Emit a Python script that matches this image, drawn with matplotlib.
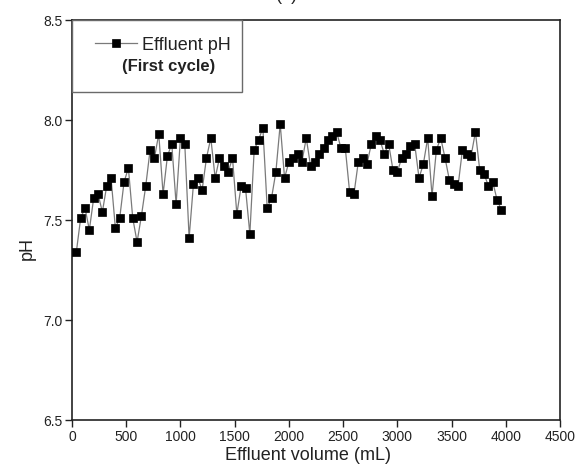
import matplotlib
matplotlib.use("Agg")
import matplotlib.pyplot as plt
from matplotlib.patches import Rectangle

plt.rcParams['font.family'] = ['Liberation Sans', 'DejaVu Sans']

volume_ml = [40, 80, 120, 160, 200, 240, 280, 320, 360, 400,
             440, 480, 520, 560, 600, 640, 680, 720, 760, 800,
             840, 880, 920, 960, 1000, 1040, 1080, 1120, 1160, 1200,
             1240, 1280, 1320, 1360, 1400, 1440, 1480, 1520, 1560, 1600,
             1640, 1680, 1720, 1760, 1800, 1840, 1880, 1920, 1960, 2000,
             2040, 2080, 2120, 2160, 2200, 2240, 2280, 2320, 2360, 2400,
             2440, 2480, 2520, 2560, 2600, 2640, 2680, 2720, 2760, 2800,
             2840, 2880, 2920, 2960, 3000, 3040, 3080, 3120, 3160, 3200,
             3240, 3280, 3320, 3360, 3400, 3440, 3480, 3520, 3560, 3600,
             3640, 3680, 3720, 3760, 3800, 3840, 3880, 3920, 3960]

effluent_ph = [7.34, 7.51, 7.56, 7.45, 7.61, 7.63, 7.54, 7.67, 7.71, 7.46,
               7.51, 7.69, 7.76, 7.51, 7.39, 7.52, 7.67, 7.85, 7.81, 7.93,
               7.63, 7.82, 7.88, 7.58, 7.91, 7.88, 7.41, 7.68, 7.71, 7.65,
               7.81, 7.91, 7.71, 7.81, 7.77, 7.74, 7.81, 7.53, 7.67, 7.66,
               7.43, 7.85, 7.90, 7.96, 7.56, 7.61, 7.74, 7.98, 7.71, 7.79,
               7.81, 7.83, 7.79, 7.91, 7.77, 7.79, 7.83, 7.86, 7.90, 7.92,
               7.94, 7.86, 7.86, 7.64, 7.63, 7.79, 7.81, 7.78, 7.88, 7.92,
               7.90, 7.83, 7.88, 7.75, 7.74, 7.81, 7.83, 7.87, 7.88, 7.71,
               7.78, 7.91, 7.62, 7.85, 7.91, 7.81, 7.70, 7.68, 7.67, 7.85,
               7.83, 7.82, 7.94, 7.75, 7.73, 7.67, 7.69, 7.60, 7.55]

x_ticks = [0, 500, 1000, 1500, 2000, 2500, 3000, 3500, 4000, 4500]
y_ticks = [6.5, 7.0, 7.5, 8.0, 8.5]
y_tick_labels = ['6.5', '7.0', '7.5', '8.0', '8.5']

W, H = 579, 468
fig = plt.figure(figsize=(W / 100, H / 100), dpi=100)
ax = fig.add_axes([72 / W, 1 - 420 / H, 488 / W, 400 / H])

line, = ax.plot(volume_ml, effluent_ph, color='#7a7a7a', lw=0.9,
                marker='s', markersize=5.5, markerfacecolor='black',
                markeredgecolor='black', markeredgewidth=0.5, zorder=3)

ax.set_xlim(0, 4500)
ax.set_ylim(6.5, 8.5)
ax.set_xticks(x_ticks)
ax.set_yticks(y_ticks)
ax.set_yticklabels(y_tick_labels)
ax.tick_params(direction='out', length=5, width=1.0, labelsize=10,
               colors='#222222', pad=2)
for s in ax.spines.values():
    s.set_linewidth(1.2)
    s.set_color('#222222')

ax.set_xlabel('Effluent volume (mL)', fontsize=13, color='#222222')
ax.set_ylabel('pH', fontsize=13, color='#222222')
ax.xaxis.set_label_coords(0.483, -0.068)
ax.yaxis.set_label_coords(-0.075, 0.43)

# legend frame
rect = Rectangle((0, 1 - 72 / 400), 170 / 488, 72 / 400, transform=ax.transAxes,
                 facecolor='white', edgecolor='#6a6a6a', lw=1.0, zorder=5,
                 clip_on=False)
ax.add_patch(rect)
leg = ax.legend(handles=[line], labels=['Effluent pH'], loc='center left',
                bbox_to_anchor=((95 - 72) / 488, 1 - (45 - 20) / 400),
                frameon=False, fontsize=13, handlelength=2.3,
                handletextpad=0.3, borderpad=0, borderaxespad=0)
leg.set_zorder(6)
for t in leg.get_texts():
    t.set_color('#222222')
ax.text((122 - 72) / 488, 1 - (66 - 20) / 400, '(First cycle)',
        transform=ax.transAxes, fontsize=12, fontweight='bold',
        color='#222222', ha='left', va='center', zorder=7)

fig.text(287 / W, 1.0, '(a)', ha='center', va='baseline', fontsize=13,
         color='#222222')

fig.savefig('out.png', dpi=100, facecolor='white')
